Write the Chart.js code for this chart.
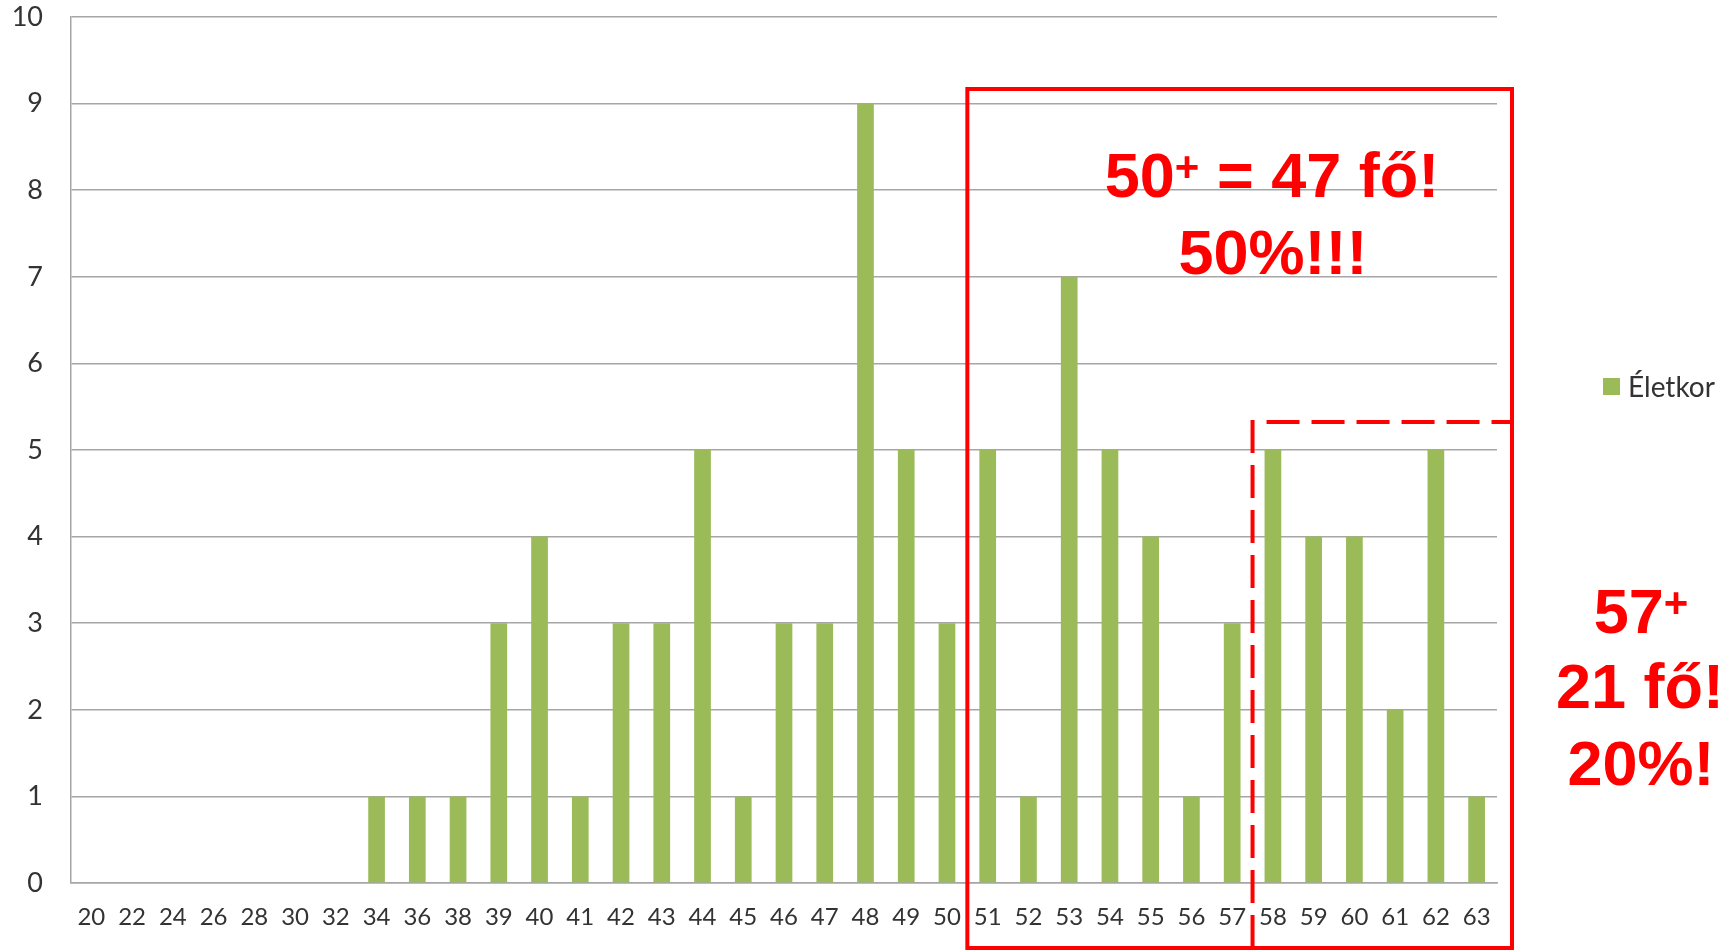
<!DOCTYPE html>
<html>
<head>
<meta charset="utf-8">
<script src="https://cdn.jsdelivr.net/npm/chart.js@4"></script>
<style>
  html, body { margin: 0; padding: 0; background: #fff; }
  #wrap { width: 1735px; height: 951px; }
</style>
</head>
<body>
<div id="wrap"><canvas id="c" width="1735" height="951"></canvas></div>
<script>
// ---- data ----
const categories = ['20','22','24','26','28','30','32','34','36','38','39','40','41','42','43','44','45','46','47','48','49','50','51','52','53','54','55','56','57','58','59','60','61','62','63'];
const counts = [0,0,0,0,0,0,0,1,1,1,3,4,1,3,3,5,1,3,3,9,5,3,5,1,7,5,4,1,3,5,4,4,2,5,1];
const seriesLabel = 'Életkor';
const yMin = 0, yMax = 10, yStep = 1;
const boxFromCategory = '51';      // solid box starts here
const dashedFromCategory = '58';   // dashed box starts here
const note1Lines = [['50', '+', ' = 47 fő!'], ['50%!!!', '', '']];
const note2Lines = [['57', '+', ''], ['21 fő!', '', ''], ['20%!', '', '']];

const GREEN = '#9BBB59';
const GRID = '#A6A6A6';
const RED = '#FF0000';
const TXT = '#333333';

const annotations = {
  id: 'annotations',
  afterDraw(chart) {
    const ctx = chart.ctx;
    const x = chart.scales.x;
    const half = (x.getPixelForValue(1) - x.getPixelForValue(0)) / 2;
    const solidLeft = x.getPixelForValue(categories.indexOf(boxFromCategory)) - half;
    const dashLeft = x.getPixelForValue(categories.indexOf(dashedFromCategory)) - half;
    const right = 1512, bottom = 948;

    ctx.save();
    ctx.strokeStyle = RED;
    ctx.lineWidth = 4;
    ctx.setLineDash([]);
    ctx.strokeRect(solidLeft, 89, right - solidLeft, bottom - 89);
    ctx.setLineDash([33, 12]);
    ctx.beginPath();
    ctx.moveTo(dashLeft, bottom);
    ctx.lineTo(dashLeft, 422);
    ctx.lineTo(right, 422);
    ctx.stroke();
    ctx.restore();

    const drawLine = (parts, cx, baseline) => {
      const big = 'bold 63px "Liberation Sans", Arial, sans-serif';
      const small = 'bold 42px "Liberation Sans", Arial, sans-serif';
      ctx.font = big; const w0 = ctx.measureText(parts[0]).width;
      const w2 = ctx.measureText(parts[2]).width;
      ctx.font = small; const w1 = parts[1] ? ctx.measureText(parts[1]).width : 0;
      const total = w0 + w1 + w2;
      let px = cx - total / 2;
      ctx.fillStyle = RED;
      ctx.textAlign = 'left';
      ctx.textBaseline = 'alphabetic';
      ctx.font = big; ctx.fillText(parts[0], px, baseline); px += w0;
      if (parts[1]) { ctx.font = small; ctx.fillText(parts[1], px, baseline - 16); px += w1; }
      ctx.font = big; if (parts[2]) ctx.fillText(parts[2], px, baseline);
    };
    ctx.save();
    drawLine(note1Lines[0], 1272, 197);
    drawLine(note1Lines[1], 1273, 274);
    drawLine(note2Lines[0], 1641, 633);
    drawLine(note2Lines[1], 1640, 708);
    drawLine(note2Lines[2], 1641, 785);
    ctx.restore();

    ctx.save();
    ctx.fillStyle = chart.data.datasets[0].backgroundColor;
    ctx.fillRect(1603, 378, 17, 17);
    ctx.fillStyle = TXT;
    ctx.font = '28px Lato, "Open Sans", sans-serif';
    ctx.textAlign = 'left';
    ctx.textBaseline = 'middle';
    ctx.fillText(chart.data.datasets[0].label, 1628, 388);
    ctx.restore();
  }
};

new Chart(document.getElementById('c'), {
  type: 'bar',
  data: {
    labels: categories,
    datasets: [{
      label: seriesLabel,
      data: counts,
      backgroundColor: GREEN,
      borderWidth: 0,
      barPercentage: 0.41,
      categoryPercentage: 1.0
    }]
  },
  options: {
    responsive: false,
    devicePixelRatio: 1,
    animation: false,
    layout: { padding: { left: 0, top: 17, right: 238, bottom: 0 } },
    plugins: { legend: { display: false }, tooltip: { enabled: false } },
    scales: {
      x: {
        offset: true,
        grid: { display: false, drawTicks: false },
        border: { display: true, color: GRID, width: 1.5 },
        ticks: { color: TXT, font: { family: 'Lato, "Open Sans", sans-serif', size: 24 }, padding: 20, maxRotation: 0, autoSkip: false },
        afterFit: s => { s.height = 68; s.paddingLeft = 0; s.paddingRight = 0; }
      },
      y: {
        min: yMin, max: yMax,
        grid: { color: GRID, lineWidth: 1.5, drawTicks: false },
        border: { display: true, color: GRID, width: 1.5 },
        ticks: { stepSize: yStep, color: TXT, font: { family: 'Lato, "Open Sans", sans-serif', size: 27 }, padding: 28 },
        afterFit: s => { s.width = 71; s.paddingTop = 0; s.paddingBottom = 0; }
      }
    }
  },
  plugins: [annotations]
});
</script>
</body>
</html>
